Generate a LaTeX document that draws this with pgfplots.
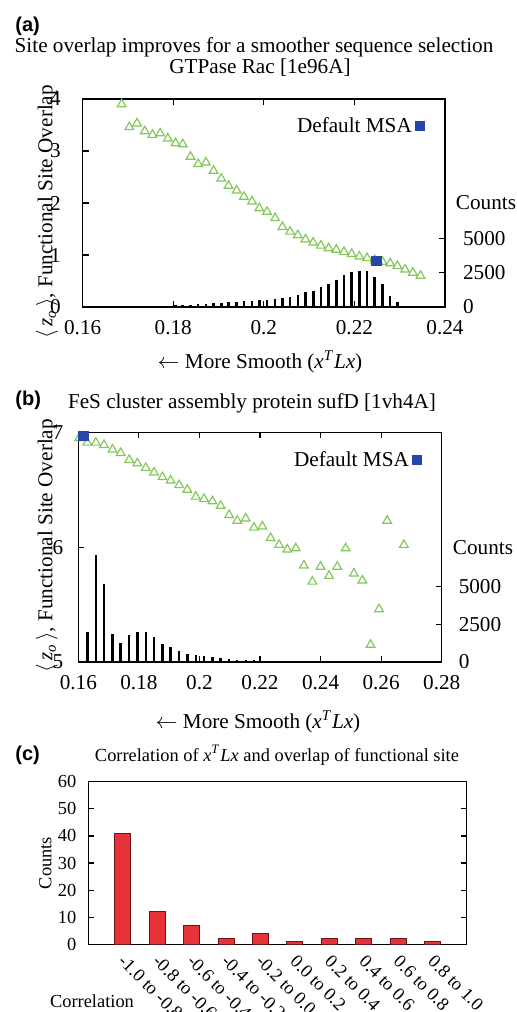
\documentclass[border=0pt]{standalone}
\usepackage{fontspec}
\setmainfont{Liberation Serif}
\newfontfamily\panelfont{Liberation Sans}
\usepackage{pgfplots}
\pgfplotsset{compat=1.18}

\definecolor{triG}{RGB}{130,200,90}
\definecolor{msaB}{RGB}{40,70,170}
\definecolor{barR}{RGB}{232,50,58}
\newcommand\fa{\fontsize{10.6}{12}\selectfont}
\newcommand\fc{\fontsize{9.2}{11}\selectfont}
\newcommand\fp{\panelfont\bfseries\fontsize{10}{12}\selectfont}

\pgfplotsset{
  gp/.style={
    scale only axis, anchor=south west, clip=false,
    tick align=inside, major tick length=3pt,
    axis line style={line width=0.7pt},
    every tick/.style={black, line width=0.6pt},
    scaled ticks=false,
    /pgf/number format/assume math mode=true,
    /pgf/number format/1000 sep={},
    tick label style={font=\fa},
  },
  msa/.style={
    legend style={draw=none, fill=none, inner sep=0pt, anchor=east, font=\fa,
      /tikz/every even column/.append style={column sep=5pt}},
    legend plot pos=right,
    legend image code/.code={\draw[##1, mark size=2.2pt] plot coordinates {(0pt,0pt)};},
  },
}

\begin{document}
\begin{tikzpicture}
\path[use as bounding box] (0pt,0pt) rectangle (258.5pt,-506pt);

% ---------------- (a)
\node[font=\fp, anchor=west, inner sep=0pt] at (7.5pt,-13pt) {(a)};
\node[font=\fa] at (127pt,-23.5pt) {Site overlap improves for a smoother sequence selection};
\node[font=\fa] at (130pt,-34pt) {GTPase Rac [1e96A]};

\begin{axis}[gp, msa,
  at={(41.35pt,-153.5pt)}, width=181.15pt, height=104pt,
  xmin=0.16, xmax=0.24, ymin=0, ymax=4,
  xtick={0.16,0.18,0.2,0.22,0.24}, ytick={0,1,2,3,4}, ytick pos=left,
  xticklabel style={yshift=-3pt},
  yticklabel style={xshift=-7.5pt},
  legend style={at={(0.945,0.87)}},
]
\addplot[only marks, mark=triangle, mark size=2.5pt, triG, line width=0.6pt, forget plot] coordinates {
  (0.1686,3.90) (0.1703,3.46) (0.1720,3.53) (0.1737,3.38) (0.1754,3.31)
  (0.1771,3.34) (0.1788,3.24) (0.1805,3.15) (0.1821,3.13) (0.1838,2.89)
  (0.1855,2.75) (0.1872,2.78) (0.1889,2.62) (0.1906,2.47) (0.1922,2.33)
  (0.1940,2.24) (0.1956,2.12) (0.1974,2.03) (0.1990,1.90) (0.2007,1.83)
  (0.2025,1.71) (0.2041,1.54) (0.2058,1.45) (0.2075,1.38) (0.2092,1.30)
  (0.2109,1.24) (0.2126,1.18) (0.2143,1.13) (0.2160,1.10) (0.2177,1.06)
  (0.2194,1.02) (0.2211,0.97) (0.2228,0.94) (0.2245,0.90) (0.2262,0.87)
  (0.2279,0.84) (0.2295,0.79) (0.2312,0.72) (0.2329,0.66) (0.2346,0.60)
};
\addplot[only marks, mark=square*, mark size=2.4pt, msaB] coordinates {(0.2249,0.885)};
\addlegendentry{Default MSA}
\end{axis}

\begin{axis}[gp,
  at={(41.35pt,-153.5pt)}, width=181.15pt, height=104pt,
  xmin=0.16, xmax=0.24, ymin=0, ymax=15200,
  axis x line=none, axis y line*=right,
  ytick={0,2500,5000},
  yticklabel style={anchor=west, xshift=5.5pt},
]
\addplot[ycomb, black, line width=1.3pt] coordinates {
  (0.1737,40) (0.1754,50)
  (0.1771,70) (0.1788,95) (0.1805,144) (0.1821,144) (0.1838,168)
  (0.1855,216) (0.1872,240) (0.1889,313) (0.1906,313) (0.1922,386)
  (0.1940,386) (0.1956,410) (0.1974,459) (0.1990,483) (0.2007,532)
  (0.2025,580) (0.2041,653) (0.2058,751) (0.2075,872) (0.2092,1090)
  (0.2109,1188) (0.2126,1455) (0.2143,1672) (0.2160,1990) (0.2177,2306)
  (0.2194,2524) (0.2211,2597) (0.2228,2646) (0.2245,2160) (0.2262,1650)
  (0.2279,775) (0.2295,337) (0.2312,95)
};
\end{axis}

\node[font=\fa] at (243pt,-101.5pt) {Counts};
\node[font=\fa, rotate=90] at (23.5pt,-106pt)
  {$\langle$\,\textit{z}\textsubscript{\textit{o}}\,$\rangle$, Functional Site Overlap};
\node[font=\fa] at (130pt,-181pt)
  {$\leftarrow$ More Smooth (\textit{x}\textsuperscript{\textit{T}}\textit{Lx})};

% ---------------- (b)
\node[font=\fp, anchor=west, inner sep=0pt] at (7.5pt,-200pt) {(b)};
\node[font=\fa] at (126pt,-201.5pt) {FeS cluster assembly protein sufD [1vh4A]};

\begin{axis}[gp, msa,
  at={(39.15pt,-331pt)}, width=181.7pt, height=114.85pt,
  xmin=0.16, xmax=0.28, ymin=5, ymax=7,
  xtick={0.16,0.18,0.2,0.22,0.24,0.26,0.28}, ytick={5,6,7}, ytick pos=left,
  xticklabel style={yshift=-3pt},
  yticklabel style={xshift=-4pt},
  legend style={at={(0.946,0.879)}},
]
\addplot[only marks, mark=triangle, mark size=2.5pt, triG, line width=0.6pt, forget plot] coordinates {
  (0.1603,6.95) (0.1630,6.91) (0.1658,6.91) (0.1685,6.89) (0.1713,6.85)
  (0.1740,6.82) (0.1768,6.76) (0.1795,6.73) (0.1823,6.69) (0.1850,6.65)
  (0.1878,6.61) (0.1905,6.58) (0.1933,6.54) (0.1960,6.50) (0.1988,6.44)
  (0.2015,6.42) (0.2043,6.40) (0.2070,6.36) (0.2098,6.28) (0.2125,6.23)
  (0.2153,6.25) (0.2180,6.17) (0.2208,6.18) (0.2235,6.08) (0.2263,6.02)
  (0.2290,5.98) (0.2318,5.99) (0.2345,5.84) (0.2373,5.70) (0.2400,5.83)
  (0.2428,5.75) (0.2455,5.83) (0.2483,5.99) (0.2510,5.77) (0.2538,5.71)
  (0.2565,5.15) (0.2593,5.46) (0.2620,6.23) (0.2675,6.02)
};
\addplot[only marks, mark=square*, mark size=2.4pt, msaB] coordinates {(0.1617,6.97)};
\addlegendentry{Default MSA}
\end{axis}

\begin{axis}[gp,
  at={(39.15pt,-331pt)}, width=181.7pt, height=114.85pt,
  xmin=0.16, xmax=0.28, ymin=0, ymax=15200,
  axis x line=none, axis y line*=right,
  ytick={0,2500,5000},
  yticklabel style={anchor=west, xshift=5pt},
]
\addplot[ycomb, black, line width=1.2pt] coordinates {
  (0.1630,2000) (0.1658,7050) (0.1685,5180) (0.1713,1830) (0.1740,1280)
  (0.1768,1760) (0.1795,1980) (0.1823,1980) (0.1850,1680) (0.1878,1210)
  (0.1905,970) (0.1933,730) (0.1960,550) (0.1988,460) (0.2015,380)
  (0.2043,330) (0.2070,260) (0.2098,200) (0.2125,150) (0.2153,110)
  (0.2180,110) (0.2208,70) (0.2235,40) (0.2263,30) (0.2290,30)
  (0.2318,20) (0.2345,20)
};
\end{axis}

\node[font=\fa] at (241.5pt,-274pt) {Counts};
\node[font=\fa, rotate=90] at (23.5pt,-273pt)
  {$\langle$\,\textit{z}\textsubscript{\textit{o}}\,$\rangle$, Functional Site Overlap};
\node[font=\fa] at (129pt,-361pt)
  {$\leftarrow$ More Smooth (\textit{x}\textsuperscript{\textit{T}}\textit{Lx})};

% ---------------- (c)
\node[font=\fp, anchor=west, inner sep=0pt] at (7.5pt,-377.5pt) {(c)};
\node[font=\fc] at (138.5pt,-377.5pt)
  {Correlation of \textit{x}\textsuperscript{\textit{T}}\textit{Lx} and overlap of functional site};

\begin{axis}[gp,
  at={(44.15pt,-472.15pt)}, width=189.2pt, height=81.3pt,
  xmin=0, xmax=11, ymin=0, ymax=60,
  ybar, bar width=8pt,
  ytick={0,10,20,30,40,50,60},
  xtick={1,2,3,4,5,6,7,8,9,10},
  xticklabels={-1.0 to -0.8,-0.8 to -0.6,-0.6 to -0.4,-0.4 to -0.2,-0.2 to 0.0,
               0.0 to 0.2,0.2 to 0.4,0.4 to 0.6,0.6 to 0.8,0.8 to 1.0},
  xtick style={draw=none},
  tick label style={font=\fc},
  yticklabel style={xshift=-2.5pt},
  xticklabel style={xshift=-3pt, yshift=-1.5pt, rotate=-45, anchor=west},
]
\addplot[fill=barR, draw=black!55!barR, line width=0.4pt] coordinates {
  (1,41) (2,12) (3,7) (4,2) (5,4) (6,1) (7,2) (8,2) (9,2) (10,1)
};
\end{axis}

\node[font=\fc, rotate=90] at (22.7pt,-431.5pt) {Counts};
\node[font=\fc] at (46pt,-500.8pt) {Correlation};
\end{tikzpicture}
\end{document}
